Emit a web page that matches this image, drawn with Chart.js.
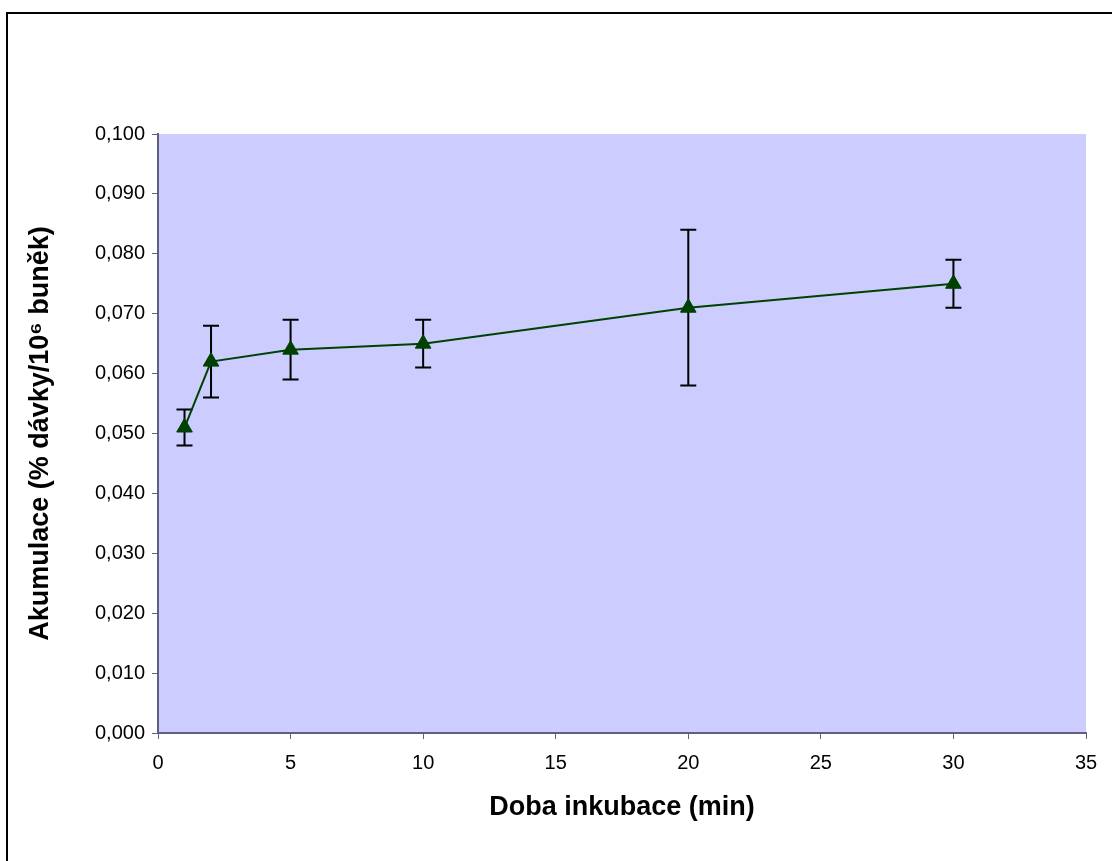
<!DOCTYPE html>
<html>
<head>
<meta charset="utf-8">
<script src="https://cdn.jsdelivr.net/npm/chart.js@4.4.1/dist/chart.umd.min.js"></script>
<style>
  html, body { margin: 0; padding: 0; background: #fff; }
  #wrap { position: relative; width: 1112px; height: 861px; }
</style>
</head>
<body>
<div id="wrap"><canvas id="accChart" width="1112" height="861"></canvas></div>
<script>
// Data
const times = [1, 2, 5, 10, 20, 30];            // min
const accumulation = [0.051, 0.062, 0.064, 0.065, 0.071, 0.075];
const errors = [0.003, 0.006, 0.005, 0.004, 0.013, 0.004];
const xTicks = [0, 5, 10, 15, 20, 25, 30, 35];
const yTicks = [0, 0.01, 0.02, 0.03, 0.04, 0.05, 0.06, 0.07, 0.08, 0.09, 0.1];

const axisColor = '#5f5f7f';

// Plot area background + outer frame
const backdrop = {
  id: 'backdrop',
  beforeDraw(chart) {
    const { ctx, chartArea: a } = chart;
    ctx.save();
    ctx.fillStyle = '#ffffff';
    ctx.fillRect(0, 0, chart.width, chart.height);
    ctx.fillStyle = '#ccccff';
    ctx.fillRect(a.left, a.top, a.right - a.left, a.bottom - a.top);
    ctx.strokeStyle = '#000';
    ctx.lineWidth = 2;
    ctx.beginPath();
    ctx.moveTo(7, chart.height);
    ctx.lineTo(7, 13);
    ctx.lineTo(chart.width, 13);
    ctx.stroke();
    ctx.restore();
  }
};

// Error bars, drawn through the scales
const errorBars = {
  id: 'errorBars',
  beforeDatasetsDraw(chart) {
    const { ctx, scales: { x, y } } = chart;
    ctx.save();
    ctx.strokeStyle = '#000';
    ctx.lineWidth = 2;
    times.forEach((t, i) => {
      const px = x.getPixelForValue(t);
      const top = y.getPixelForValue(accumulation[i] + errors[i]);
      const bot = y.getPixelForValue(accumulation[i] - errors[i]);
      ctx.beginPath();
      ctx.moveTo(px, top); ctx.lineTo(px, bot);
      ctx.moveTo(px - 8, top); ctx.lineTo(px + 8, top);
      ctx.moveTo(px - 8, bot); ctx.lineTo(px + 8, bot);
      ctx.stroke();
    });
    ctx.restore();
  }
};

new Chart(document.getElementById('accChart'), {
  type: 'scatter',
  data: {
    datasets: [{
      data: times.map((t, i) => ({ x: t, y: accumulation[i] })),
      showLine: true,
      borderColor: '#004000',
      borderWidth: 2,
      pointStyle: 'triangle',
      pointRadius: 9,
      pointBackgroundColor: '#004000',
      pointBorderColor: '#004000',
      pointBorderWidth: 1
    }]
  },
  options: {
    responsive: false,
    animation: false,
    layout: { padding: { top: 134, right: 26, left: 0, bottom: 0 } },
    plugins: { legend: { display: false }, tooltip: { enabled: false } },
    scales: {
      x: {
        type: 'linear',
        min: 0, max: 35,
        afterBuildTicks: s => { s.ticks = xTicks.map(v => ({ value: v })); },
        afterFit: s => { s.height = 128; },
        grid: { drawOnChartArea: false, drawTicks: true, tickLength: 6, color: axisColor, lineWidth: 1 },
        border: { display: true, color: axisColor, width: 2 },
        ticks: { color: '#000', padding: 12, font: { family: 'Liberation Sans, Arial', size: 20 } },
        title: {
          display: true,
          text: 'Doba inkubace (min)',
          color: '#000',
          padding: { top: 0, bottom: 37 },
          font: { family: 'Liberation Sans, Arial', size: 27, weight: 'bold' }
        }
      },
      y: {
        min: 0, max: 0.1,
        afterBuildTicks: s => { s.ticks = yTicks.map(v => ({ value: v })); },
        afterFit: s => { s.width = 158; },
        grid: { drawOnChartArea: false, drawTicks: true, tickLength: 6, color: axisColor, lineWidth: 1 },
        border: { display: true, color: axisColor, width: 2 },
        ticks: {
          color: '#000', padding: 7,
          font: { family: 'Liberation Sans, Arial', size: 20 },
          callback: v => v.toFixed(3).replace('.', ',')
        },
        title: {
          display: true,
          text: 'Akumulace (% dávky/10⁶ buněk)',
          color: '#000',
          padding: { top: 24, bottom: 0 },
          font: { family: 'Liberation Sans, Arial', size: 27, weight: 'bold' }
        }
      }
    }
  },
  plugins: [backdrop, errorBars]
});
</script>
</body>
</html>
